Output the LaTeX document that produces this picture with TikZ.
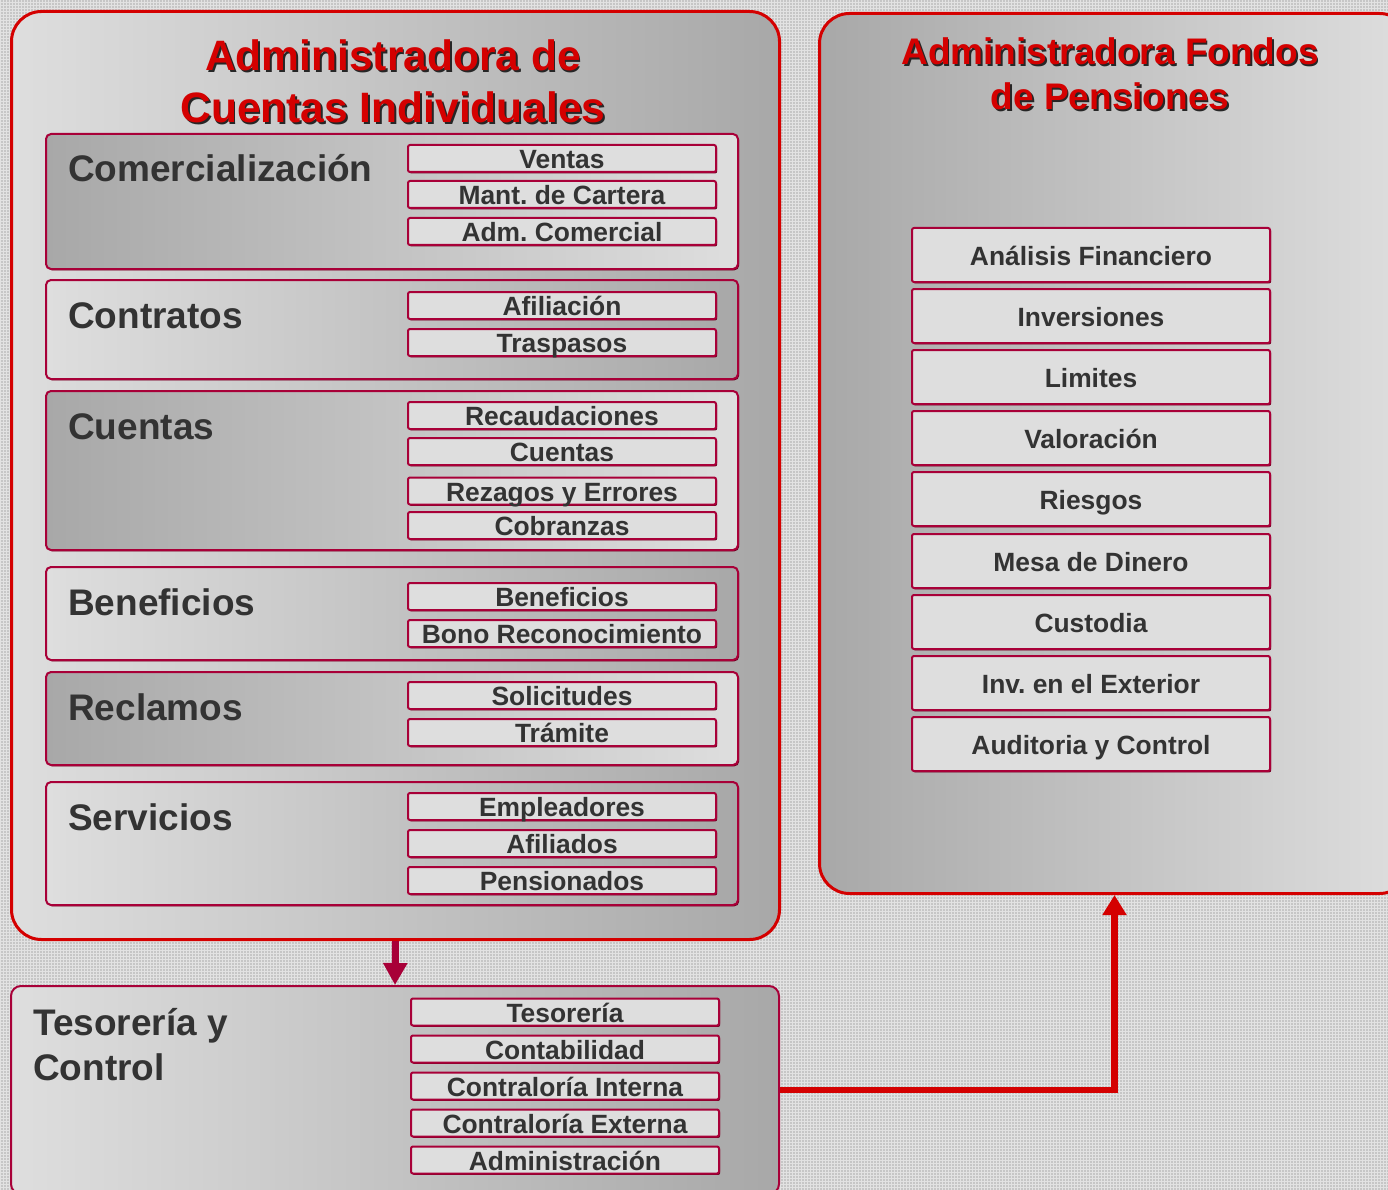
\documentclass[tikz,border=0pt]{standalone}
\usepackage{fontspec}
\setmainfont{Liberation Sans}
\usetikzlibrary{arrows.meta,positioning,shadows,patterns}
\definecolor{AciRed}{RGB}{212,0,0}
\definecolor{AciCrimson}{RGB}{168,0,56}
\definecolor{AciShadow}{RGB}{112,0,34}
\definecolor{AciText}{RGB}{51,51,51}
\definecolor{AciLight}{RGB}{222,222,222}
\definecolor{AciDark}{RGB}{168,168,168}
\definecolor{AciBack}{RGB}{198,198,198}
\definecolor{AciMesh}{RGB}{226,226,226}
\newcommand{\acishadow}[1]{\makebox[0pt][l]{\kern1.8pt\raisebox{-1.8pt}{\textcolor{black!85}{#1}}}#1}
\tikzset{
  aci/panel/.style={
    draw=AciRed,
    line width=3pt,
    rounded corners=30pt,
    anchor=north west,
    inner sep=0pt
  },
  aci/section/.style={
    draw=AciCrimson,
    line width=2pt,
    rounded corners=5pt,
    anchor=north west,
    inner sep=0pt,
    minimum width=692pt,
    drop shadow={shadow xshift=1.2pt,shadow yshift=-1.4pt,fill=AciShadow,opacity=1}
  },
  aci/darkleft/.style={left color=AciDark, right color=AciLight},
  aci/lightleft/.style={left color=AciLight, right color=AciDark},
  aci/item/.style={
    draw=AciCrimson,
    line width=2pt,
    rounded corners=2pt,
    fill=AciLight,
    text=AciText,
    inner sep=0pt,
    minimum width=308pt,
    minimum height=27pt,
    text height=20.5pt,
    text depth=0pt,
    font=\fontsize{26.4}{30}\selectfont\bfseries\frenchspacing,
    drop shadow={shadow xshift=1.2pt,shadow yshift=-1.4pt,fill=AciShadow,opacity=1}
  },
  aci/bigitem/.style={aci/item, minimum width=358pt, minimum height=54pt},
  aci/label/.style={anchor=base west, inner sep=0pt, text=AciText, align=left, font=\fontsize{37}{45}\selectfont\bfseries},
  aci/title/.style={text=AciRed, align=center, inner sep=0pt},
  aci/down/.style={-{Triangle[length=22pt,width=23pt]}, line width=7pt, draw=AciCrimson},
  aci/up/.style={-{Triangle[length=20pt,width=23pt]}, line width=6.5pt, draw=AciRed}
}
\begin{document}
\begin{tikzpicture}[x=1pt,y=-1pt]
  \useasboundingbox (0,0) rectangle (1388,1190);
  \clip (0,0) rectangle (1388,1190);
  \fill[AciBack] (0,0) rectangle (1388,1190);
  \fill[pattern=grid,pattern color=AciMesh] (0,0) rectangle (1388,1190);

  \node[aci/panel,aci/lightleft,minimum width=768pt,minimum height=928pt] (aci) at (10,10) {};
  \node[aci/panel,aci/darkleft,minimum width=590pt,minimum height=880pt] (afp) at (818,12) {};
  \node[aci/panel,aci/lightleft,draw=AciCrimson,line width=2pt,rounded corners=10pt,minimum width=768pt,minimum height=208pt] (tyc) at (10,985) {};

  \node[aci/title,font=\fontsize{42.5}{52}\selectfont\bfseries] (acititle) at (393,82) {\acishadow{Administradora de}\\\acishadow{Cuentas Individuales}};
  \node[aci/title,font=\fontsize{37}{45}\selectfont\bfseries] (afptitle) at (1110,75) {\acishadow{Administradora Fondos}\\\acishadow{de Pensiones}};

  \node[aci/section,aci/darkleft,minimum height=135pt] (comer) at (45,133) {};
  \node[aci/section,aci/lightleft,minimum height=99pt] (contr) at (45,279) {};
  \node[aci/section,aci/darkleft,minimum height=159pt] (cuent) at (45,390) {};
  \node[aci/section,aci/lightleft,minimum height=93pt] (benef) at (45,566) {};
  \node[aci/section,aci/darkleft,minimum height=93pt] (recla) at (45,671) {};
  \node[aci/section,aci/lightleft,minimum height=123pt] (servi) at (45,781) {};

  \node[aci/label] (comerlabel) at (68,182) {Comercialización};
  \node[aci/label] (contrlabel) at (68,328) {Contratos};
  \node[aci/label] (cuentlabel) at (68,439) {Cuentas};
  \node[aci/label] (beneflabel) at (68,615) {Beneficios};
  \node[aci/label] (reclalabel) at (68,720) {Reclamos};
  \node[aci/label] (servilabel) at (68,830) {Servicios};

  \node[aci/item] (ventas) at (562,158.5) {Ventas};
  \node[aci/item] (cartera) at (562,194.5) {Mant. de Cartera};
  \node[aci/item] (admcom) at (562,231.5) {Adm. Comercial};
  \node[aci/item] (afiliacion) at (562,305.5) {Afiliación};
  \node[aci/item] (traspasos) at (562,342.5) {Traspasos};
  \node[aci/item] (recaudaciones) at (562,415.5) {Recaudaciones};
  \node[aci/item] (cuentas) at (562,451.5) {Cuentas};
  \node[aci/item] (rezagos) at (562,491) {Rezagos y Errores};
  \node[aci/item] (cobranzas) at (562,525.5) {Cobranzas};
  \node[aci/item] (beneficios) at (562,596.5) {Beneficios};
  \node[aci/item] (bono) at (562,633.5) {Bono Reconocimiento};
  \node[aci/item] (solicitudes) at (562,695.5) {Solicitudes};
  \node[aci/item] (tramite) at (562,732.5) {Trámite};
  \node[aci/item] (empleadores) at (562,806.5) {Empleadores};
  \node[aci/item] (afiliados) at (562,843.5) {Afiliados};
  \node[aci/item] (pensionados) at (562,880.5) {Pensionados};

  \node[aci/bigitem] (analisis) at (1091,255) {Análisis Financiero};
  \node[aci/bigitem] (inversiones) at (1091,316) {Inversiones};
  \node[aci/bigitem] (limites) at (1091,377) {Limites};
  \node[aci/bigitem] (valoracion) at (1091,438) {Valoración};
  \node[aci/bigitem] (riesgos) at (1091,499) {Riesgos};
  \node[aci/bigitem] (mesa) at (1091,561) {Mesa de Dinero};
  \node[aci/bigitem] (custodia) at (1091,622) {Custodia};
  \node[aci/bigitem] (exterior) at (1091,683) {Inv. en el Exterior};
  \node[aci/bigitem] (auditoria) at (1091,744) {Auditoria y Control};

  \node[aci/label] (tyclabel) at (33,1080) {Tesorería y\\Control};
  \node[aci/item] (tesoreria) at (565,1012) {Tesorería};
  \node[aci/item] (contabilidad) at (565,1049) {Contabilidad};
  \node[aci/item] (cinterna) at (565,1086) {Contraloría Interna};
  \node[aci/item] (cexterna) at (565,1123) {Contraloría Externa};
  \node[aci/item] (administracion) at (565,1160) {Administración};

  \draw[aci/down] (aci.south) -- (tyc.north);
  \draw[aci/up] (tyc.east) -| (afp.south);
\end{tikzpicture}
\end{document}
